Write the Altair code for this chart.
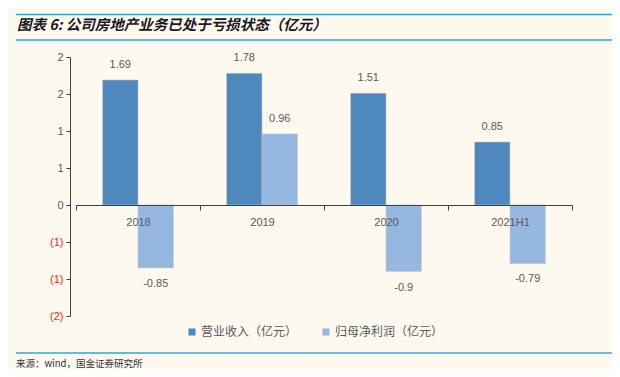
import altair as alt
import pandas as pd

categories = ["2018", "2019", "2020", "2021H1"]
series_names = ["营业收入（亿元）", "归母净利润（亿元）"]
revenue = [1.69, 1.78, 1.51, 0.85]
net_profit = [-0.85, 0.96, -0.9, -0.79]
y_ticks = [-1.5, -1, -0.5, 0, 0.5, 1, 1.5, 2]

title_text = "图表 6: 公司房地产业务已处于亏损状态（亿元）"
source_text = "来源：wind，国金证券研究所"

rows = []
for c, r, p in zip(categories, revenue, net_profit):
    rows.append({"cat": c, "series": series_names[0], "value": r, "label": str(r)})
    rows.append({"cat": c, "series": series_names[1], "value": p, "label": str(p)})
df = pd.DataFrame(rows)

DARK = "#4F88BD"
LIGHT = "#96B8E0"
BG = "#FDF9EF"
LINE_BLUE = "#2AA7E0"
TXT = "#595959"
AXIS = "#404040"
CJK = "Noto Sans CJK SC"
NUM = "Liberation Sans, Noto Sans CJK SC"

W, H = 496, 259
ZERO_FROM_BOTTOM = 111

x_enc = alt.X(
    "cat:N",
    sort=categories,
    scale=alt.Scale(paddingInner=0, paddingOuter=0),
    axis=alt.Axis(
        title=None, labelAngle=0, tickBand="extent", offset=-ZERO_FROM_BOTTOM,
        domainColor=AXIS, tickColor=AXIS, tickSize=5, tickWidth=1,
        labelColor=TXT, labelFontSize=11, labelFont=NUM, labelPadding=6,
        zindex=1,
    ),
)
xo_enc = alt.XOffset(
    "series:N", sort=series_names,
    scale=alt.Scale(paddingInner=0, paddingOuter=0.75),
)
y_scale = alt.Scale(domain=[min(y_ticks), max(y_ticks)], nice=False, zero=False)
y_axis = alt.Axis(
    title=None, values=y_ticks, grid=False, labelOverlap=False, domain=True,
    labelExpr="datum.value < 0 ? '(' + round(-datum.value) + ')' : '' + round(datum.value)",
    labelColor={"condition": {"test": "datum.value < 0", "value": "#FF2020"}, "value": TXT},
    labelFontSize=11, labelFont=NUM, labelPadding=3,
    domainColor=AXIS, domainWidth=1,
    tickColor=AXIS, tickSize=4, tickWidth=1, offset=6,
)
y_enc = alt.Y("value:Q", scale=y_scale, axis=y_axis)

base = alt.Chart(df)

bars = base.mark_bar(stroke="#C4C4C4", strokeWidth=0.6).encode(
    x=x_enc,
    xOffset=xo_enc,
    y=y_enc,
    color=alt.Color(
        "series:N",
        sort=series_names,
        scale=alt.Scale(domain=series_names, range=[DARK, LIGHT]),
        legend=alt.Legend(
            title=None, orient="none", legendX=110, legendY=269,
            direction="horizontal", symbolType="square", symbolSize=50,
            symbolStrokeWidth=0, labelFontSize=12, labelFont=CJK,
            labelColor=TXT, labelOffset=3, columnPadding=22,
        ),
    ),
)

pos_labels = base.transform_filter("datum.value >= 0").mark_text(
    dy=-15, baseline="middle", fontSize=11, font=NUM, color=TXT
).encode(x=x_enc, xOffset=xo_enc, y=y_enc, text="label:N")

neg_labels = base.transform_filter("datum.value < 0").mark_text(
    dy=16, baseline="middle", fontSize=11, font=NUM, color=TXT
).encode(x=x_enc, xOffset=xo_enc, y=y_enc, text="label:N")

deco = alt.Chart(pd.DataFrame({"t": [title_text]}))
line1 = deco.mark_rule(color=LINE_BLUE, strokeWidth=1.5).encode(
    x=alt.value(-60), x2=alt.value(540), y=alt.value(-42.5))
line2 = deco.mark_rule(color=LINE_BLUE, strokeWidth=1.5).encode(
    x=alt.value(-60), x2=alt.value(540), y=alt.value(-17))
line3 = deco.mark_rule(color=LINE_BLUE, strokeWidth=1.5).encode(
    x=alt.value(-60), x2=alt.value(540), y=alt.value(296))
title = deco.mark_text(
    align="left", baseline="middle", fontSize=14.5, font=CJK,
    fontWeight="bold", fontStyle="italic", color="#1A1A1A"
).encode(x=alt.value(-59), y=alt.value(-31), text="t:N")
source = alt.Chart(pd.DataFrame({"s": [source_text]})).mark_text(
    align="left", baseline="middle", fontSize=9.5, font=CJK, color="#333333"
).encode(x=alt.value(-60), y=alt.value(307), text="s:N")

chart = alt.layer(
    bars, pos_labels, neg_labels, line1, line2, line3, title, source
).properties(
    width=W, height=H,
    padding={"left": 68, "top": 49, "right": 40, "bottom": 53},
    autosize=alt.AutoSizeParams(type="none"),
    background=BG,
).configure_view(stroke=None)

chart.save("out.html", embed_options={"renderer": "svg", "actions": False})
